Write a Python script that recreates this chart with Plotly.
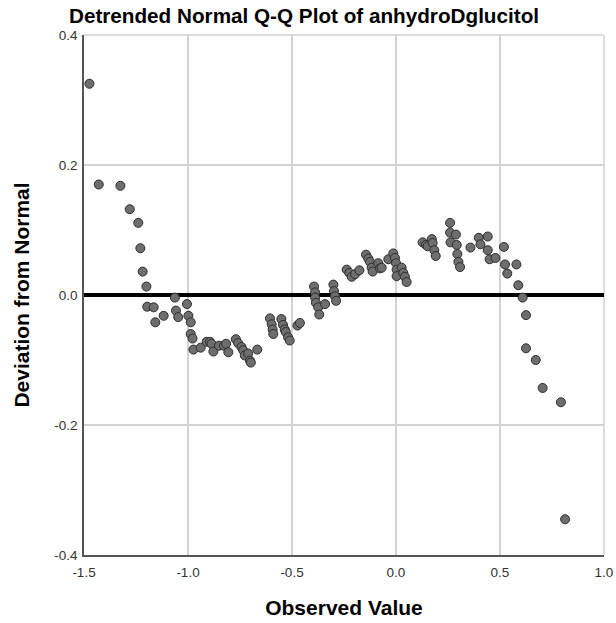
import plotly.graph_objects as go

observed = [
    -1.474, -1.429, -1.325, -1.280, -1.239, -1.229, -1.218, -1.200, -1.196, -1.165,
    -1.157, -1.117, -1.063, -1.058, -1.047, -1.005, -0.998, -0.987, -0.987, -0.978,
    -0.974, -0.939, -0.910, -0.894, -0.887, -0.878, -0.851, -0.827, -0.817, -0.806,
    -0.770, -0.759, -0.743, -0.735, -0.727, -0.711, -0.702, -0.698, -0.667,
    -0.606, -0.598, -0.593, -0.590, -0.551, -0.543, -0.535, -0.530, -0.519, -0.511,
    -0.474, -0.462,
    -0.394, -0.389, -0.389, -0.385, -0.374, -0.369, -0.341, -0.301, -0.298, -0.293,
    -0.288, -0.237, -0.224, -0.213, -0.197, -0.176, -0.144, -0.133, -0.125, -0.117,
    -0.112, -0.085, -0.077, -0.069, -0.037, -0.013, -0.005, 0.000, 0.003, 0.003,
    0.027, 0.035, 0.043, 0.051,
    0.128, 0.144, 0.152, 0.172, 0.176, 0.184, 0.191,
    0.260, 0.260, 0.262, 0.288, 0.292, 0.295, 0.300, 0.308,
    0.358, 0.398, 0.406, 0.441, 0.441, 0.450, 0.478,
    0.519, 0.524, 0.535, 0.579, 0.588, 0.609, 0.625, 0.625, 0.672, 0.705, 0.793, 0.813,
]
deviation = [
    0.325, 0.170, 0.168, 0.132, 0.111, 0.072, 0.036, 0.013, -0.018, -0.019,
    -0.042, -0.032, -0.004, -0.024, -0.034, -0.014, -0.032, -0.042, -0.060, -0.067,
    -0.084, -0.081, -0.072, -0.072, -0.075, -0.087, -0.078, -0.078, -0.075, -0.088,
    -0.068, -0.074, -0.080, -0.085, -0.093, -0.090, -0.101, -0.104, -0.084,
    -0.036, -0.045, -0.053, -0.060, -0.037, -0.046, -0.053, -0.057, -0.065, -0.070,
    -0.047, -0.043,
    0.013, 0.004, -0.004, -0.012, -0.019, -0.030, -0.014, 0.016, 0.006, -0.002,
    -0.009, 0.039, 0.034, 0.028, 0.032, 0.038, 0.062, 0.056, 0.051, 0.042,
    0.036, 0.049, 0.041, 0.042, 0.055, 0.064, 0.057, 0.049, 0.039, 0.029,
    0.042, 0.034, 0.028, 0.020,
    0.081, 0.077, 0.075, 0.086, 0.080, 0.069, 0.060,
    0.111, 0.096, 0.081, 0.093, 0.077, 0.063, 0.051, 0.043,
    0.073, 0.088, 0.078, 0.090, 0.069, 0.055, 0.057,
    0.074, 0.047, 0.033, 0.047, 0.015, -0.004, -0.031, -0.082, -0.100, -0.143, -0.165, -0.345,
]

x_ticks = [-1.5, -1.0, -0.5, 0.0, 0.5, 1.0]
x_tick_labels = ["-1.5", "-1.0", "-0.5", "0.0", "0.5", "1.0"]
y_ticks = [-0.4, -0.2, 0.0, 0.2, 0.4]
y_tick_labels = ["-0.4", "-0.2", "0.0", "0.2", "0.4"]

FONT = "Liberation Sans, Arial, sans-serif"
GRID = "#d3d3d3"

fig = go.Figure()
fig.add_trace(go.Scatter(
    x=observed, y=deviation, mode="markers",
    marker=dict(size=9, color="#6e6e6e", line=dict(color="#2e2e2e", width=1)),
    showlegend=False, cliponaxis=False, hoverinfo="skip",
))

# light frame on top and right (as in the original)
fig.add_shape(type="line", xref="paper", yref="paper", x0=0, x1=1, y0=1, y1=1,
              line=dict(color=GRID, width=1.5), layer="below")
fig.add_shape(type="line", xref="paper", yref="paper", x0=1, x1=1, y0=0, y1=1,
              line=dict(color=GRID, width=1.5), layer="below")

fig.update_layout(
    width=616, height=623,
    margin=dict(l=84, r=12, t=35, b=68, autoexpand=False),
    paper_bgcolor="white", plot_bgcolor="white",
    title=dict(text="<b>Detrended Normal Q-Q Plot of anhydroDglucitol</b>",
               x=304 / 616, xanchor="center", y=1 - 16 / 623, yanchor="middle",
               font=dict(family=FONT, size=20.7, color="#000")),
    font=dict(family=FONT),
    hovermode=False,
)
fig.update_xaxes(
    range=[-1.5, 1.0], tickvals=x_ticks, ticktext=x_tick_labels,
    automargin=False,
    showgrid=True, gridcolor=GRID, gridwidth=1.5,
    showline=True, linecolor="#555", linewidth=1.5,
    zeroline=False, ticks="", ticklabelstandoff=4,
    tickfont=dict(family=FONT, size=13.5, color="#333"),
    title=dict(text="<b>Observed Value</b>", font=dict(family=FONT, size=21, color="#000"), standoff=21),
)
fig.update_yaxes(
    range=[-0.4, 0.4], tickvals=y_ticks, ticktext=y_tick_labels,
    automargin=False,
    showgrid=True, gridcolor=GRID, gridwidth=1.5,
    showline=True, linecolor="#555", linewidth=1.5,
    zeroline=True, zerolinecolor="#000", zerolinewidth=3.5,
    ticks="", ticklabelstandoff=2,
    tickfont=dict(family=FONT, size=13.5, color="#333"),
    title=dict(text="<b>Deviation from Normal</b>", font=dict(family=FONT, size=21, color="#000"), standoff=19),
)
fig.write_html("out.html", config={"displayModeBar": False})

# remove the browser's default page margin so the figure sits at (0, 0)
with open("out.html", "r", encoding="utf-8") as f:
    html = f.read()
html = html.replace("<head>", "<head><style>body{margin:0;}</style>", 1)
with open("out.html", "w", encoding="utf-8") as f:
    f.write(html)
